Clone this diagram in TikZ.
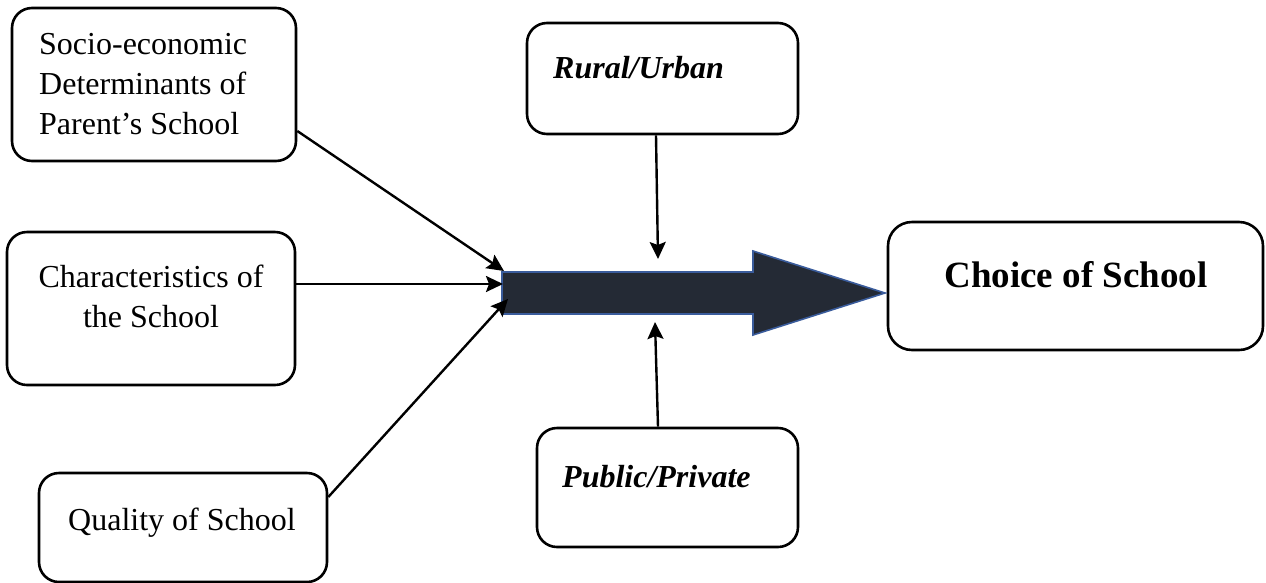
\documentclass[tikz,border=0pt]{standalone}
\usepackage{fontspec}
\setmainfont{Liberation Serif}
\usetikzlibrary{arrows.meta}
\definecolor{arrowfill}{HTML}{242A35}
\definecolor{arrowedge}{HTML}{3A5C9C}
\begin{document}
\begin{tikzpicture}[x=1pt,y=-1pt,
  box/.style={draw=black, line width=2.6pt, rounded corners=20pt, inner sep=0pt},
  txt/.style={inner sep=0pt, font=\fontsize{32}{40}\selectfont},
  conn/.style={line width=2.4pt, -{Stealth[length=17pt,width=16pt,inset=3pt]}}]
\useasboundingbox (0,0) rectangle (1266,582);

% boxes
\node[box, minimum width=284pt, minimum height=153pt] (socio) at (154,84.5) {};
\node[box, minimum width=288pt, minimum height=153pt] (charac) at (151,308.5) {};
\node[box, minimum width=288pt, minimum height=109pt] (quality) at (183,527.5) {};
\node[box, minimum width=271pt, minimum height=111pt] (rural) at (662.5,78.5) {};
\node[box, minimum width=261pt, minimum height=119pt] (public) at (667.5,487.5) {};
\node[box, minimum width=375pt, minimum height=128pt, rounded corners=24pt] (choice) at (1075.5,286) {};

% texts
\node[txt, anchor=north west, align=left] (sociot) at (39,33) {Socio-economic\\Determinants of\\Parent’s School};
\node[txt, anchor=north, align=center] (charact) at (151,265) {Characteristics of\\the School};
\node[txt, anchor=base] (qualityt) at (182,530) {Quality of School};
\node[txt, anchor=base west] (ruralt) at (553,78) {\textbf{\textit{Rural/Urban}}};
\node[txt, anchor=base west] (publict) at (562,487) {\textbf{\textit{Public/Private}}};
\node[inner sep=0pt, anchor=base, font=\fontsize{37}{44}\selectfont\bfseries] (choicet) at (1076,287) {Choice of School};

% big arrow
\coordinate (a1) at (502,272);
\coordinate (a2) at (753,272);
\coordinate (a3) at (753,251);
\coordinate (a4) at (885,293);
\coordinate (a5) at (753,335);
\coordinate (a6) at (753,314);
\coordinate (a7) at (502,314);
\filldraw[fill=arrowfill, draw=arrowedge, line width=1.6pt, line join=miter]
  (a1) -- (a2) -- (a3) -- (a4) -- (a5) -- (a6) -- (a7) -- cycle;

% connector end points
\coordinate (t1) at (504,271);
\coordinate (t2) at (503,284);
\coordinate (t3) at (508,299);
\coordinate (t4) at (658,259);
\coordinate (t5) at (655,322);

\draw[conn] ([yshift=-46.5pt]socio.east) -- (t1);
\draw[conn] ([yshift=24.5pt]charac.east) -- (t2);
\draw[conn] ([yshift=30.5pt]quality.east) -- (t3);
\draw[conn] ([xshift=-6.5pt]rural.south) -- (t4);
\draw[conn] ([xshift=-9.5pt]public.north) -- (t5);
\end{tikzpicture}
\end{document}
